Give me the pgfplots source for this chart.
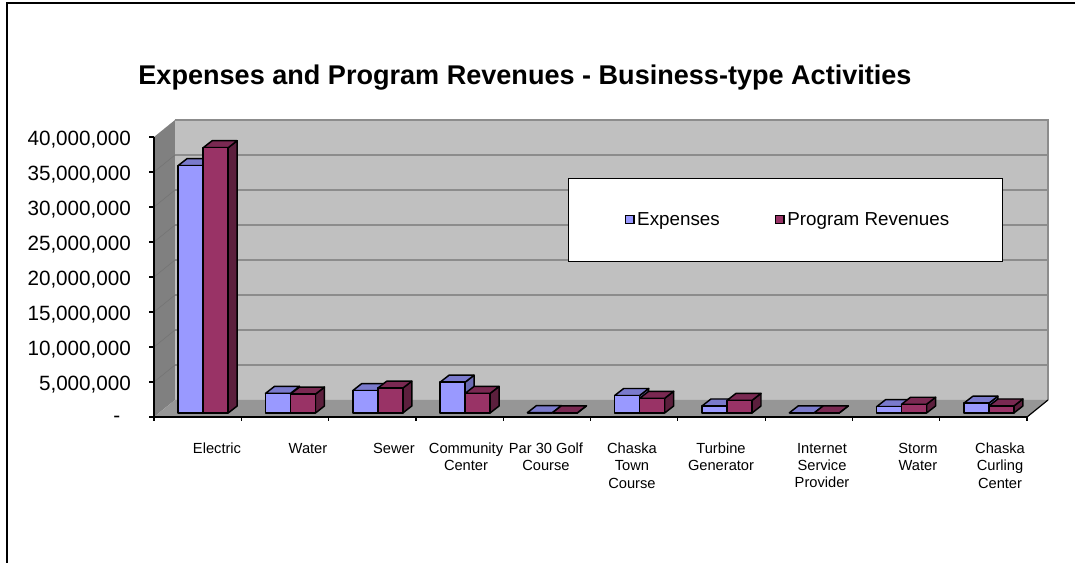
\documentclass[border=0pt]{standalone}
\usepackage{pgfplots}
\usepackage{pgfplotstable}
\usepackage{fontspec}
\setmainfont{Liberation Sans}
\pgfplotsset{compat=1.18}
\definecolor{expfront}{HTML}{9999FF}
\definecolor{exptop}{HTML}{7A7ACC}
\definecolor{expside}{HTML}{6B6BB3}
\definecolor{revfront}{HTML}{993366}
\definecolor{revtop}{HTML}{7A2952}
\definecolor{revside}{HTML}{5C1F3D}
\definecolor{wall}{HTML}{C0C0C0}
\definecolor{sidewall}{HTML}{808080}
\definecolor{floorc}{HTML}{969696}
\definecolor{gridc}{HTML}{8C8C8C}
% values in millions
\pgfplotstableread{
idx Expenses Revenues
0 35.35 37.9
1 2.8 2.7
2 3.2 3.55
3 4.4 2.8
4 0.05 0.03
5 2.5 2.1
6 1.0 1.8
7 0.02 0.02
8 0.9 1.25
9 1.4 1.0
}\datatable
% #1 left edge x, #2 value, #3 front, #4 top, #5 side
\newcommand{\threedbar}[5]{%
  \pgfmathsetmacro{\xa}{#1}%
  \pgfmathsetmacro{\xb}{#1+0.2864}%
  \pgfmathsetmacro{\xc}{#1+0.2864+0.103}%
  \pgfmathsetmacro{\xd}{#1+0.103}%
  \pgfmathsetmacro{\ya}{0.571}%
  \pgfmathsetmacro{\yb}{0.571+#2}%
  \pgfmathsetmacro{\yc}{0.571+#2+1.0}%
  \pgfmathsetmacro{\ye}{0.571+1.0}%
  \edef\temp{\noexpand\addplot[forget plot,fill=#5,draw=black,line width=1.1pt,line join=round] coordinates {(\xb,\ya)(\xc,\ye)(\xc,\yc)(\xb,\yb)} -- cycle;
  \noexpand\addplot[forget plot,fill=#4,draw=black,line width=1.1pt,line join=round] coordinates {(\xa,\yb)(\xb,\yb)(\xc,\yc)(\xd,\yc)} -- cycle;
  \noexpand\addplot[forget plot,fill=#3,draw=black,line width=1.1pt,line join=round] coordinates {(\xa,\ya)(\xb,\ya)(\xb,\yb)(\xa,\yb)} -- cycle;}%
  \temp
}
\begin{document}
\begin{tikzpicture}
\path[use as bounding box] (0,0) rectangle (806.25pt,422.25pt);
\draw[black,line width=1pt] (5.25pt,0pt) -- (5.25pt,420pt) -- (806.25pt,420pt);
\begin{axis}[
  at={(115.5pt,109.5pt)},anchor=south west,
  scale only axis,width=654.75pt,height=210pt,
  xmin=0,xmax=10,ymin=0,ymax=40,clip=false,
  axis on top,tick align=outside,
  axis lines*=left,axis line style={-,black,line width=0.9pt},
  xtick={0.722,1.764,2.749,3.574,4.49,5.475,6.495,7.652,8.751,9.691},
  xticklabels={Electric,Water,Sewer,{Community\\Center},{Par 30 Golf\\Course},{Chaska\\Town\\Course},{Turbine\\Generator},{Internet\\Service\\Provider},{Storm\\Water},{Chaska\\Curling\\Center}},
  major x tick style={draw=none},
  x tick label style={font=\fontsize{11}{13}\selectfont,align=center,anchor=north,yshift=-12.2pt},
  minor xtick={0,...,10},
  minor tick length=3pt,
  minor tick style={black,line width=0.9pt},
  ytick={0,5,...,40},
  yticklabels={-\hspace*{8pt},{5,000,000},{10,000,000},{15,000,000},{20,000,000},{25,000,000},{30,000,000},{35,000,000},{40,000,000}},
  major y tick style={black,line width=0.9pt},
  major tick length=3.75pt,
  y tick label style={font=\fontsize{15.5}{18}\selectfont,xshift=-10pt,yshift=-2pt},
  title={Expenses and Program Revenues - Business-type Activities},
  title style={at={(rel axis cs:0.425,1.16)},anchor=base,font=\fontsize{20.3}{23}\bfseries},
  legend columns=2,
  legend cell align=left,
  legend image code/.code={\path[draw=none,fill=none] (-5pt,0pt) -- (0pt,0pt);\draw[draw=black,line width=0.9pt,#1] (0pt,-3.2pt) rectangle (6.4pt,3.2pt);},
  legend style={at={(axis cs:7.232,28.2)},anchor=center,draw=black,line width=0.8pt,fill=white,
    font=\fontsize{14.1}{17}\selectfont,inner xsep=37.6pt,inner ysep=23.5pt,
    /tikz/every even column/.append style={column sep=34.8pt}},
]
% walls
\fill[wall] (axis cs:0.2405,2.4286) rectangle (axis cs:10.2405,42.4286);
\fill[sidewall] (axis cs:0,0) -- (axis cs:0.2405,2.4286) -- (axis cs:0.2405,42.4286) -- (axis cs:0,40) -- cycle;
\fill[floorc] (axis cs:0,0) -- (axis cs:10,0) -- (axis cs:10.2405,2.4286) -- (axis cs:0.2405,2.4286) -- cycle;
\draw[gridc,line width=1.1pt] (axis cs:0.2405,42.4286) -- (axis cs:10.2405,42.4286) -- (axis cs:10.2405,2.4286);
\draw[black,line width=0.9pt] (axis cs:10,0) -- (axis cs:10.2405,2.4286);
\pgfplotsinvokeforeach{5,10,...,35}{
  \draw[gridc,line width=1.1pt] (axis cs:0.2405,#1+2.4286) -- (axis cs:10.2405,#1+2.4286);
  \draw[gray!90!black,line width=0.4pt] (axis cs:0,#1) -- (axis cs:0.2405,#1+2.4286);
}
\pgfplotsinvokeforeach{0,...,9}{
  \pgfplotstablegetelem{#1}{Expenses}\of\datatable
  \let\expv\pgfplotsretval
  \pgfplotstablegetelem{#1}{Revenues}\of\datatable
  \let\revv\pgfplotsretval
  \threedbar{#1+0.277}{\expv}{expfront}{exptop}{expside}
  \threedbar{#1+0.5634}{\revv}{revfront}{revtop}{revside}
}
\addlegendimage{fill=expfront}
\addlegendentry{Expenses}
\addlegendimage{fill=revfront}
\addlegendentry{Program Revenues}
\end{axis}
\end{tikzpicture}
\end{document}
